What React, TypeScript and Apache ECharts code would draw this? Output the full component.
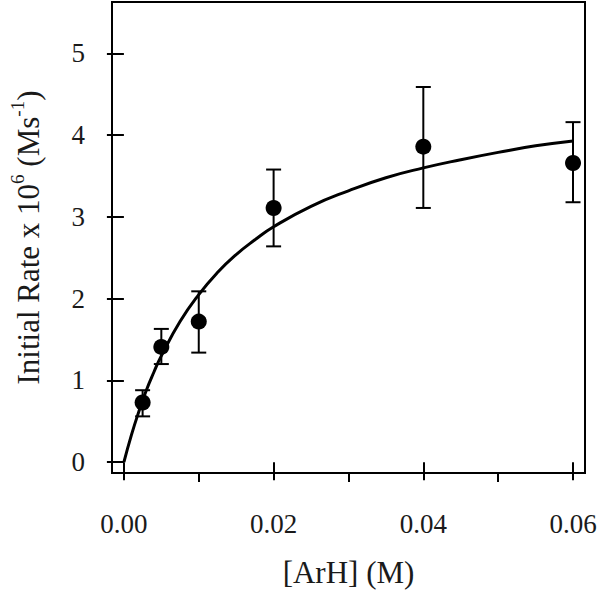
import React, { useEffect, useRef } from "react";
import * as echarts from "echarts";

const concentrations = [0.0025, 0.005, 0.01, 0.02, 0.04, 0.06];
const rates = [0.73, 1.41, 1.72, 3.11, 3.86, 3.66];
const errLow = [0.56, 1.2, 1.34, 2.64, 3.11, 3.18];
const errHigh = [0.88, 1.63, 2.09, 3.58, 4.59, 4.16];

const fitX = [0, 0.001, 0.002, 0.003, 0.004, 0.005, 0.0075, 0.01, 0.0125, 0.015, 0.0175, 0.02, 0.025, 0.03, 0.035, 0.04, 0.045, 0.05, 0.055, 0.06];
const fitY = [0, 0.33, 0.62, 0.88, 1.1, 1.3, 1.72, 2.05, 2.32, 2.54, 2.72, 2.88, 3.13, 3.32, 3.48, 3.6, 3.7, 3.79, 3.87, 3.93];

const xTickLabels = [0, 0.02, 0.04, 0.06];
const xMinorTicks = [0.01, 0.03, 0.05];
const yTickLabels = [0, 1, 2, 3, 4, 5];

const FONT = "Liberation Serif";
const INK = "#000";

export default function App() {
  const ref = useRef<HTMLDivElement>(null);
  useEffect(() => {
    if (!ref.current) return;
    const chart = echarts.init(ref.current, null, { renderer: "svg" });
    const xMin = -0.00159;
    const xMax = 0.0616;
    chart.setOption({
      animation: false,
      backgroundColor: "#fff",
      grid: {
        left: 107,
        right: 15,
        top: 2,
        bottom: 114,
        show: true,
        borderColor: INK,
        borderWidth: 2,
        backgroundColor: "transparent",
      },
      xAxis: [
        {
          type: "value",
          min: xMin,
          max: xMax,
          axisLine: { show: false },
          splitLine: { show: false },
          axisTick: {
            show: true,
            customValues: xTickLabels,
            length: 18,
            lineStyle: { color: INK, width: 2 },
          },
          axisLabel: {
            customValues: xTickLabels,
            margin: 37,
            fontFamily: FONT,
            fontSize: 27,
            color: "#1a1a1a",
            formatter: (v: number) => v.toFixed(2),
          },
          name: "[ArH] (M)",
          nameLocation: "middle",
          nameGap: 84,
          nameTextStyle: { fontFamily: FONT, fontSize: 31, color: "#1a1a1a", verticalAlign: "top" },
        },
        {
          type: "value",
          position: "bottom",
          min: xMin,
          max: xMax,
          axisLine: { show: false },
          splitLine: { show: false },
          axisTick: {
            show: true,
            customValues: xMinorTicks,
            length: 9,
            lineStyle: { color: INK, width: 2 },
          },
          axisLabel: { show: false },
        },
      ],
      yAxis: {
        type: "value",
        min: -0.133,
        max: 5.63,
        axisLine: { show: false },
        splitLine: { show: false },
        axisTick: {
          show: true,
          customValues: yTickLabels,
          length: 17,
          lineStyle: { color: INK, width: 2 },
        },
        axisLabel: {
          customValues: yTickLabels,
          margin: 27,
          fontFamily: FONT,
          fontSize: 27,
          color: "#1a1a1a",
        },
        name: "{m|Initial Rate x 10}{s|6}{m| (Ms}{s|-1}{m|)}",
        nameLocation: "middle",
        nameRotate: 90,
        nameGap: 68,
        nameTextStyle: {
          rich: {
            m: { fontFamily: FONT, fontSize: 31, color: "#1a1a1a", lineHeight: 36, verticalAlign: "bottom" },
            s: { fontFamily: FONT, fontSize: 19, color: "#1a1a1a", lineHeight: 36, verticalAlign: "top" },
          },
        },
      },
      series: [
        {
          type: "line",
          data: fitX.map((x, i) => [x, fitY[i]]),
          smooth: true,
          showSymbol: false,
          symbol: "none",
          lineStyle: { color: INK, width: 3 },
          z: 2,
        },
        {
          type: "custom",
          data: concentrations.map((x, i) => [x, errLow[i], errHigh[i]]),
          renderItem: (params: any, api: any) => {
            const x = api.value(0);
            const lo = api.coord([x, api.value(1)]);
            const hi = api.coord([x, api.value(2)]);
            const w = 7.5;
            const style = { stroke: INK, lineWidth: 2 };
            return {
              type: "group",
              children: [
                { type: "line", shape: { x1: lo[0], y1: lo[1], x2: hi[0], y2: hi[1] }, style },
                { type: "line", shape: { x1: lo[0] - w, y1: lo[1], x2: lo[0] + w, y2: lo[1] }, style },
                { type: "line", shape: { x1: hi[0] - w, y1: hi[1], x2: hi[0] + w, y2: hi[1] }, style },
              ],
            };
          },
          z: 3,
        },
        {
          type: "scatter",
          data: concentrations.map((x, i) => [x, rates[i]]),
          symbol: "circle",
          symbolSize: 16,
          itemStyle: { color: INK, opacity: 1 },
          z: 4,
        },
      ],
    });
    return () => chart.dispose();
  }, []);
  return <div ref={ref} style={{ width: 600, height: 593, position: "absolute", left: 0, top: 0 }} />;
}
